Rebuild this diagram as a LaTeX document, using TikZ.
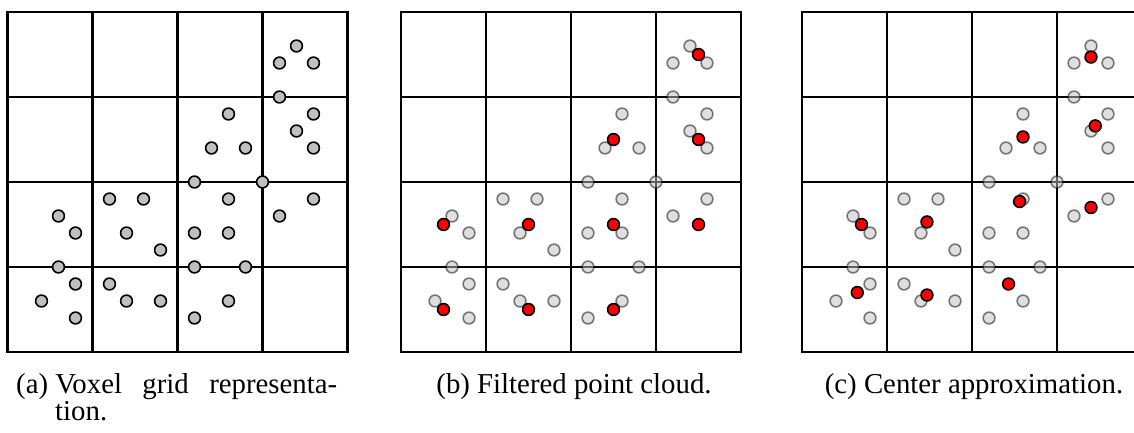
\documentclass[tikz,border=0pt]{standalone}
\usepackage{fontspec}
\setmainfont{Liberation Serif}
\definecolor{ptgray}{RGB}{192,192,192}
\definecolor{ptred}{RGB}{255,0,0}
\tikzset{
  gridln/.style={line width=2.2pt, line cap=rect},
  gpt/.style={circle, draw=black, fill=ptgray, line width=1.6pt, minimum size=11.8pt, inner sep=0pt},
  fpt/.style={gpt, opacity=0.5},
  rpt/.style={circle, draw=black, fill=ptred, line width=1.6pt, minimum size=11.8pt, inner sep=0pt},
  captxt/.style={font=\fontsize{28.8}{32}\selectfont, inner sep=0pt, anchor=base},
}
\newcommand{\pointsall}{3.4/3.6,3.2/3.4,3.6/3.4,3.2/3.0,3.6/2.8,3.4/2.6,3.6/2.4,2.6/2.8,2.4/2.4,2.8/2.4,2.2/2.0,3.0/2.0,2.6/1.8,3.6/1.8,3.2/1.6,2.2/1.4,2.6/1.4,2.2/1.0,2.8/1.0,2.6/0.6,2.2/0.4,1.2/1.8,1.6/1.8,1.4/1.4,1.8/1.2,1.2/0.8,1.4/0.6,1.8/0.6,0.6/1.6,0.8/1.4,0.6/1.0,0.8/0.8,0.4/0.6,0.8/0.4}
\newcommand{\gridfour}{%
  \foreach \k in {0,...,4} {\draw[gridln] (\k,0) -- (\k,4); \draw[gridln] (0,\k) -- (4,\k);}}
\begin{document}
\begin{tikzpicture}[x=1pt,y=-1pt]
\useasboundingbox (0,0) rectangle (1134,433);
\clip (0,0) rectangle (1134,433);
% panel a
\begin{scope}[shift={(7.5,352)}, x=85pt, y=85pt]
  \gridfour
  \foreach \u/\v [count=\i] in \pointsall {\node[gpt] (a\i) at (\u,\v) {};}
\end{scope}
% panel b
\begin{scope}[shift={(401,352)}, x=85pt, y=85pt]
  \gridfour
  \foreach \u/\v [count=\i] in \pointsall {\node[fpt] (b\i) at (\u,\v) {};}
  \foreach \u/\v [count=\i] in {3.5/3.5,2.5/2.5,3.5/2.5,0.5/1.5,1.5/1.5,2.5/1.5,3.5/1.5,0.5/0.5,1.5/0.5,2.5/0.5} {\node[rpt] (br\i) at (\u,\v) {};}
\end{scope}
% panel c
\begin{scope}[shift={(802,352)}, x=85pt, y=85pt]
  \gridfour
  \foreach \u/\v [count=\i] in \pointsall {\node[fpt] (c\i) at (\u,\v) {};}
  \foreach \u/\v [count=\i] in {3.4/3.47,3.45/2.66,2.6/2.53,3.4/1.7,2.56/1.77,1.47/1.53,0.7/1.5,0.65/0.7,1.47/0.67,2.43/0.8} {\node[rpt] (cr\i) at (\u,\v) {};}
\end{scope}
% captions
\node[captxt, anchor=base west] (capa) at (16,393) {\hbox to 321pt{(a) Voxel\hfill grid\hfill representa-}};
\node[captxt, anchor=base west] (capa2) at (55,420) {tion.};
\node[captxt] (capb) at (574,393) {(b) Filtered point cloud.};
\node[captxt] (capc) at (974,393) {(c) Center approximation.};
\end{tikzpicture}
\end{document}
